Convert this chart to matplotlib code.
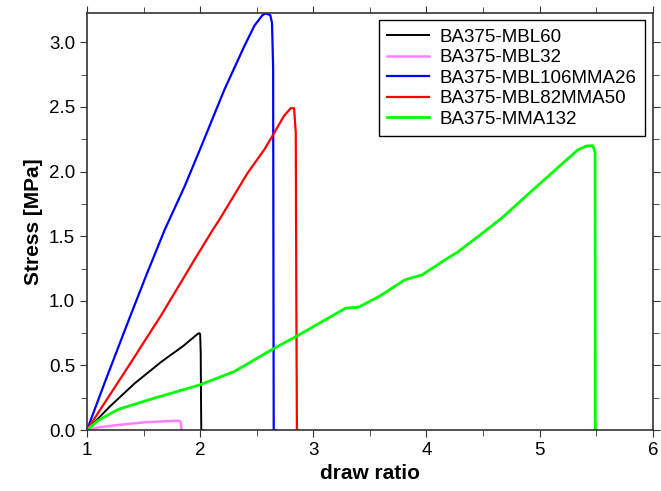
import matplotlib
matplotlib.use('Agg')
import matplotlib.pyplot as plt
from matplotlib.ticker import MultipleLocator, FormatStrFormatter

plt.rcParams['font.family'] = ['Liberation Sans', 'DejaVu Sans']

mbl60_x = [1.0, 1.2, 1.42, 1.66, 1.85, 1.98, 1.995, 2.0, 2.005, 2.008, 2.01, 2.03]
mbl60_y = [0.0, 0.18, 0.36, 0.53, 0.65, 0.745, 0.749, 0.74, 0.6, 0.2, 0.0, 0.0]

mbl32_x = [1.0, 1.1, 1.276, 1.51, 1.7, 1.8, 1.82, 1.83, 1.835, 1.84]
mbl32_y = [0.0, 0.02, 0.039, 0.06, 0.068, 0.072, 0.07, 0.05, 0.0, 0.0]

mbl106_x = [1.0, 1.158, 1.364, 1.525, 1.687, 1.863, 2.01, 2.215, 2.39, 2.48,
            2.55, 2.58, 2.62, 2.635, 2.645, 2.648, 2.65, 2.67]
mbl106_y = [0.0, 0.37, 0.84, 1.2, 1.55, 1.886, 2.196, 2.636, 2.97, 3.13,
            3.21, 3.225, 3.21, 3.15, 2.8, 1.0, 0.0, 0.0]

mbl82_x = [1.0, 1.364, 1.657, 1.95, 2.112, 2.17, 2.42, 2.567, 2.655, 2.74,
           2.8, 2.83, 2.845, 2.85, 2.855, 2.87]
mbl82_y = [0.0, 0.49, 0.89, 1.318, 1.55, 1.628, 1.99, 2.17, 2.30, 2.43,
           2.49, 2.49, 2.3, 1.0, 0.0, 0.0]

mma132_x = [1.0, 1.1, 1.276, 1.57, 1.995, 2.30, 2.655, 2.846, 3.286, 3.40, 3.58,
            3.81, 3.96, 4.166, 4.28, 4.46, 4.665, 4.93, 5.16, 5.34, 5.42,
            5.47, 5.49, 5.492, 5.5]
mma132_y = [0.0, 0.075, 0.16, 0.24, 0.349, 0.452, 0.633, 0.723, 0.943, 0.951, 1.033,
            1.163, 1.20, 1.318, 1.38, 1.50, 1.64, 1.85, 2.03, 2.17, 2.20,
            2.20, 2.15, 0.0, 0.0]

series = [
    ('BA375-MBL60', mbl60_x, mbl60_y, 'black', 1.4),
    ('BA375-MBL32', mbl32_x, mbl32_y, '#ff80ff', 1.8),
    ('BA375-MBL106MMA26', mbl106_x, mbl106_y, '#0000ff', 1.6),
    ('BA375-MBL82MMA50', mbl82_x, mbl82_y, '#ff0000', 1.6),
    ('BA375-MMA132', mma132_x, mma132_y, '#00ff00', 2.0),
]

fig = plt.figure(figsize=(6.61, 4.91), dpi=100)
ax = fig.add_axes([0.1316, 0.1242, 0.856, 0.85])

for label, xs, ys, color, lw in series:
    ax.plot(xs, ys, color=color, lw=lw, label=label)

ax.set_xlim(1, 6)
ax.set_ylim(0, 3.23)
ax.xaxis.set_major_locator(MultipleLocator(1))
ax.xaxis.set_minor_locator(MultipleLocator(0.5))
ax.yaxis.set_major_locator(MultipleLocator(0.5))
ax.yaxis.set_minor_locator(MultipleLocator(0.25))
ax.yaxis.set_major_formatter(FormatStrFormatter('%.1f'))
ax.tick_params(which='both', direction='out', top=True, right=True,
               labeltop=False, labelright=False, labelsize=13.5, color='#333333')
ax.tick_params(which='major', length=5)
ax.tick_params(which='minor', length=4)
for sp in ax.spines.values():
    sp.set_color('#333333')
    sp.set_linewidth(1.2)

ax.set_xlabel('draw ratio', fontsize=15, fontweight='bold')
ax.set_ylabel('Stress [MPa]', fontsize=15, fontweight='bold')

leg = ax.legend(loc='upper right', fontsize=13.5, fancybox=False, framealpha=1,
                edgecolor='black', handlelength=2.2, handletextpad=0.6,
                borderaxespad=0.4, labelspacing=0.18, borderpad=0.45)
leg.get_frame().set_linewidth(1.0)

plt.savefig('out.png', dpi=100)
